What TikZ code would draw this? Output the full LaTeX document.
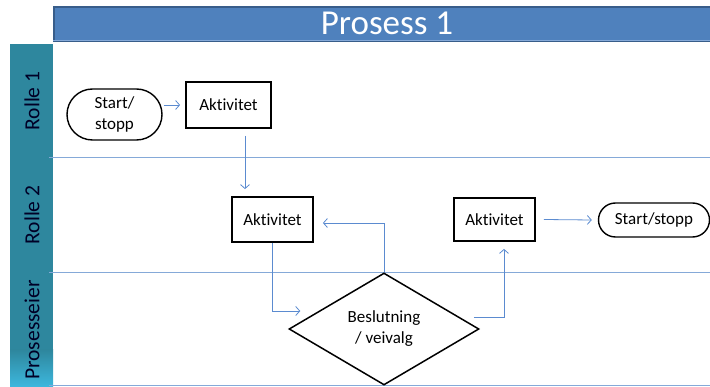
\documentclass[tikz,border=0pt]{standalone}
\usepackage{fontspec}
\setmainfont{Carlito}[RawFeature={-liga}]
\usetikzlibrary{shapes.geometric,shapes.misc,arrows.meta}

\definecolor{titlefill}{HTML}{4F81BD}
\definecolor{titleedge}{HTML}{385D8A}
\definecolor{lanecol}{HTML}{2E879E}
\definecolor{lanelight}{HTML}{3DB8DE}
\definecolor{flowcol}{HTML}{5B8BD0}
\definecolor{lanelinecol}{HTML}{85A9D8}

\tikzset{
  txt/.style={font=\fontsize{17}{21}\selectfont, text=black},
  activity/.style={txt, draw=black, line width=1.8pt, fill=white, inner sep=0pt},
  terminal/.style={txt, draw=black, line width=1.4pt, fill=white, rounded rectangle, inner sep=0pt, align=center},
  decision/.style={txt, draw=black, line width=1.5pt, fill=white, diamond, inner sep=0pt, align=center},
  flow/.style={draw=flowcol, line width=0.8pt, -{Straight Barb[length=4pt,width=9pt]}},
  laneline/.style={draw=lanelinecol, line width=1pt},
  lanelabel/.style={rotate=90, font=\fontsize{21.5}{24}\selectfont, text=black!85!blue},
}

\begin{document}
\begin{tikzpicture}[x=1pt,y=-1pt]
  \useasboundingbox (0,0) rectangle (710,387);

  % title bar
  \node[draw=titleedge, line width=1.6pt, fill=titlefill, minimum width=665pt, minimum height=34pt,
        anchor=north west, inner sep=0pt] (title) at (53,6) {};
  \node[text=white, font=\fontsize{35}{38}\selectfont] (titletext) at (387,23) {Prosess 1};

  % role column
  \fill[lanecol] (10,44) rectangle (53,387);
  \shade[top color=lanecol, bottom color=lanelight] (10,350) rectangle (53,387);

  % lane separators
  \draw[laneline] (53,41) -- (712,41);
  \draw[laneline] (49,158) -- (712,158);
  \draw[laneline] (49,273) -- (712,273);
  \draw[laneline] (49,386) -- (712,386);

  % lane labels
  \node[lanelabel] (r1) at (32,101) {Rolle 1};
  \node[lanelabel] (r2) at (32,215) {Rolle 2};
  \node[lanelabel] (r3) at (32,330) {Prosesseier};

  % shapes
  \node[terminal, minimum width=95pt, minimum height=51pt] (s1) at (114.5,114.5) {Start/\\stopp};
  \node[activity, minimum width=85pt, minimum height=46pt] (a1) at (228.5,105) {Aktivitet};
  \node[activity, minimum width=81pt, minimum height=45pt] (a2) at (272.5,219.5) {Aktivitet};
  \node[activity, minimum width=81pt, minimum height=43pt] (a3) at (494.5,219.5) {Aktivitet};
  \node[terminal, minimum width=111pt, minimum height=34pt] (s2) at (654,220) {Start/stopp};
  \node[decision, minimum width=190pt, minimum height=112pt] (d) at (384,329) {Beslutning\\/ veivalg};

  % connectors
  \draw[flow] ([xshift=1pt]a1.west -| s1.east) -- ([xshift=-5pt]a1.west);
  \draw[flow] ([xshift=16.5pt,yshift=-7pt]a1.south) -- ([xshift=16.5pt,yshift=7pt]a1.south |- a2.north);
  \draw[flow] (a2.south) |- ([xshift=12pt,yshift=18pt]d.west);
  \draw[flow] (d.north) |- ([xshift=9pt,yshift=-3.5pt]a2.east);
  \draw[flow] ([xshift=-6pt,yshift=12pt]d.east) -| ([xshift=9.5pt,yshift=-7pt]a3.south);
  \draw[flow] ([xshift=8pt]a3.east) -- ([xshift=-6pt]s2.west);
\end{tikzpicture}
\end{document}
